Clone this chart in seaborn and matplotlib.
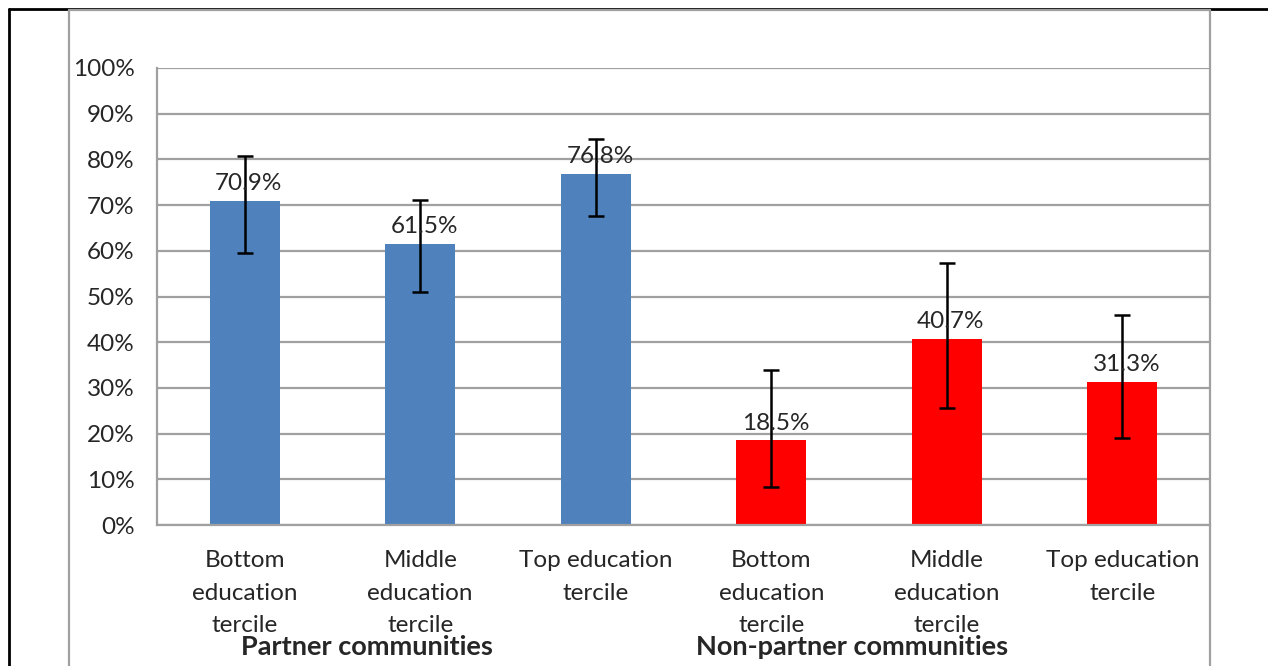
import pandas as pd
import seaborn as sns
import matplotlib
import matplotlib.pyplot as plt
from matplotlib.lines import Line2D

sns.set_style('white')
matplotlib.rcParams['font.family'] = ['Lato', 'DejaVu Sans']
matplotlib.rcParams['font.size'] = 17.5

# data
groups = ['Partner communities'] * 3 + ['Non-partner communities'] * 3
terciles = ['Bottom\neducation\ntercile', 'Middle\neducation\ntercile', 'Top education\ntercile'] * 2
values = [70.9, 61.5, 76.8, 18.5, 40.7, 31.3]
err_high = [80.7, 71.1, 84.5, 33.9, 57.3, 46.0]
err_low = [59.5, 51.0, 67.6, 8.3, 25.6, 19.0]
group_names = ['Partner communities', 'Non-partner communities']
colors = ['#4F81BD', '#FF0000']

df = pd.DataFrame({'group': groups, 'tercile': terciles, 'value': values})
df['key'] = [str(i) for i in range(len(df))]

W, H = 1268, 666
fig = plt.figure(figsize=(W / 100, H / 100), dpi=100)
ax = fig.add_axes([157 / W, 1 - 525 / H, (1210 - 157) / W, (525 - 68) / H])

sns.barplot(data=df, x='key', y='value', hue='group', hue_order=group_names,
            palette=colors, dodge=False, width=0.4, legend=False, ax=ax,
            saturation=1, edgecolor='none')

# error bars
lo = [v - l for v, l in zip(values, err_low)]
hi = [h - v for v, h in zip(values, err_high)]
ax.errorbar(range(len(values)), values, yerr=[lo, hi], fmt='none',
            ecolor='black', elinewidth=1.8, capsize=6, capthick=1.8, zorder=4)

# value labels
for i, v in enumerate(values):
    ax.annotate(f'{v}%', (i, v), xytext=(3, 5), textcoords='offset points',
                ha='center', va='bottom', fontsize=17.5, zorder=5)

ax.set_ylim(0, 100)
ax.set_xlim(-0.5, len(values) - 0.5)
ax.set_yticks(range(0, 101, 10))
ax.set_yticklabels([f'{t}%' for t in range(0, 101, 10)])
ax.yaxis.grid(True, color='#a0a0a0', linewidth=1.6)
ax.set_axisbelow(True)

ax.set_xticks([i - 0.5 for i in range(len(values) + 1)])
ax.set_xticklabels([''] * (len(values) + 1))
ax.set_xticks(range(len(values)), minor=True)
ax.set_xticklabels(terciles, minor=True, linespacing=1.68)
ax.tick_params(axis='x', which='minor', length=0, pad=18)
ax.tick_params(axis='both', which='major', length=6, width=1.6, color='#a0a0a0',
               direction='out')
ax.tick_params(axis='y', pad=10, labelsize=17.5)
ax.tick_params(axis='x', which='minor', labelsize=17.5)
ax.set_xlabel('')
ax.set_ylabel('')

for s in ['top', 'right']:
    ax.spines[s].set_visible(False)
for s in ['left', 'bottom']:
    ax.spines[s].set_color('#a0a0a0')
    ax.spines[s].set_linewidth(1.6)

# group labels
fig.text(367 / W, 1 - 647 / H, group_names[0], ha='center', va='center',
         fontsize=19.5, fontweight='bold')
fig.text(852 / W, 1 - 647 / H, group_names[1], ha='center', va='center',
         fontsize=19.5, fontweight='bold')

# frame lines around the chart
def fline(x0, y0, x1, y1, color, lw):
    fig.add_artist(Line2D([x0 / W, x1 / W], [1 - y0 / H, 1 - y1 / H],
                          color=color, linewidth=lw, transform=fig.transFigure))

fline(9, 9, W, 9, 'black', 2)
fline(9, 9, 9, H, 'black', 2)
fline(69, 10, 1210, 10, '#a0a0a0', 1.6)
fline(69, 10, 69, H, '#a0a0a0', 1.6)
fline(1210, 10, 1210, H, '#a0a0a0', 1.6)

fig.savefig('out.png', dpi=100)
